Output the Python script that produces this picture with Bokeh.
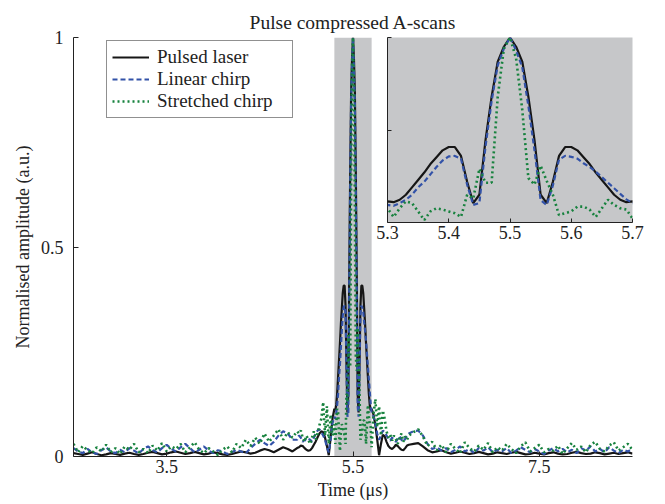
import numpy as np
from bokeh.plotting import figure
from bokeh.models import (Range1d, FixedTicker, BoxAnnotation, Legend, LegendItem,
                          ColumnDataSource, CustomJSTickFormatter)
from bokeh.embed import file_html
from bokeh.resources import INLINE

# ---- time grid (μs), segments of different sampling ----
t_A = np.round(np.linspace(2.50, 4.90, 49), 3)
t_B = np.round(np.linspace(4.92, 5.28, 19), 3)
t_C = np.round(np.linspace(5.30, 5.70, 41), 3)
t_D = np.round(np.linspace(5.72, 6.10, 20), 3)
t_E = np.round(np.linspace(6.15, 8.50, 48), 3)

# ---- Pulsed laser ----
laser_A = [0.008,0.006,0.004,0.007,0.010,0.006,0.003,0.005,0.008,0.006,
           0.004,0.007,0.009,0.006,0.004,0.006,0.009,0.011,0.008,0.005,
           0.007,0.010,0.012,0.009,0.006,0.008,0.011,0.008,0.005,0.007,
           0.010,0.008,0.005,0.004,0.006,0.009,0.012,0.010,0.007,0.009,
           0.014,0.018,0.015,0.010,0.016,0.022,0.018,0.012,0.020]
laser_B = [0.022,0.026,0.025,0.020,0.016,0.014,0.015,0.020,0.028,0.036,
           0.046,0.055,0.060,0.058,0.045,0.025,0.003,0.045,0.090]
laser_C = [0.114,0.110,0.123,0.150,0.190,0.230,0.270,0.316,0.353,0.390,
           0.408,0.408,0.360,0.220,0.105,0.150,0.445,0.680,0.870,0.950,
           1.000,
           0.950,0.870,0.680,0.445,0.150,0.105,0.220,0.360,0.408,0.408,
           0.390,0.353,0.316,0.270,0.230,0.190,0.150,0.123,0.110,0.114]
laser_D = [0.100,0.075,0.040,0.003,0.030,0.052,0.048,0.035,0.025,0.020,
           0.018,0.022,0.028,0.025,0.020,0.016,0.015,0.020,0.026,0.028]
laser_E = [0.030,0.032,0.024,0.015,0.010,0.012,0.015,0.010,0.007,0.009,
           0.012,0.009,0.006,0.008,0.011,0.008,0.005,0.007,0.010,0.008,
           0.006,0.009,0.011,0.008,0.005,0.006,0.009,0.007,0.005,0.008,
           0.010,0.007,0.005,0.006,0.009,0.011,0.008,0.006,0.007,0.010,
           0.008,0.005,0.007,0.009,0.006,0.008,0.010,0.007]

# ---- Linear chirp ----
linear_A = [0.020,0.012,0.008,0.018,0.010,0.006,0.015,0.022,0.012,0.008,
            0.016,0.010,0.020,0.014,0.007,0.018,0.024,0.015,0.010,0.020,
            0.028,0.018,0.012,0.022,0.030,0.020,0.010,0.016,0.024,0.014,
            0.008,0.015,0.012,0.006,0.010,0.016,0.012,0.008,0.020,0.030,
            0.040,0.032,0.025,0.035,0.050,0.060,0.055,0.040,0.040]
linear_B = [0.050,0.045,0.035,0.040,0.038,0.042,0.040,0.035,0.045,0.055,
            0.062,0.065,0.058,0.050,0.040,0.022,0.010,0.040,0.080]
linear_C = [0.095,0.090,0.105,0.123,0.150,0.190,0.220,0.260,0.300,0.335,
            0.357,0.360,0.345,0.205,0.095,0.105,0.410,0.656,0.850,0.940,
            1.000,
            0.930,0.840,0.630,0.390,0.120,0.095,0.200,0.340,0.360,0.355,
            0.345,0.320,0.300,0.275,0.245,0.215,0.185,0.155,0.125,0.105]
linear_D = [0.095,0.080,0.055,0.040,0.050,0.062,0.058,0.050,0.042,0.038,
            0.045,0.040,0.035,0.042,0.048,0.040,0.035,0.042,0.050,0.055]
linear_E = [0.060,0.062,0.050,0.030,0.018,0.022,0.014,0.020,0.010,0.016,
            0.024,0.012,0.018,0.008,0.020,0.014,0.022,0.010,0.016,0.012,
            0.020,0.008,0.014,0.022,0.016,0.010,0.018,0.012,0.006,0.014,
            0.020,0.012,0.018,0.010,0.016,0.008,0.020,0.014,0.024,0.012,
            0.018,0.010,0.022,0.014,0.008,0.016,0.012,0.018]

# ---- Stretched chirp ----
stretched_A = [0.030,0.010,0.025,0.015,0.008,0.022,0.012,0.028,0.010,0.020,
               0.006,0.024,0.016,0.030,0.010,0.018,0.008,0.026,0.014,0.032,
               0.012,0.024,0.018,0.030,0.010,0.022,0.034,0.016,0.008,0.020,
               0.012,0.004,0.016,0.024,0.010,0.030,0.020,0.040,0.025,0.045,
               0.030,0.055,0.035,0.050,0.065,0.040,0.058,0.045,0.060]
stretched_B = [0.055,0.062,0.045,0.035,0.050,0.040,0.030,0.045,0.060,0.040,
               0.055,0.075,0.090,0.130,0.050,0.120,0.030,0.100,0.050]
stretched_C = [0.077,0.030,0.077,0.114,0.105,0.060,0.013,0.060,0.077,0.070,
               0.060,0.050,0.030,0.150,0.130,0.290,0.215,0.215,0.680,0.940,
               1.000,
               0.886,0.610,0.240,0.205,0.307,0.224,0.150,0.040,0.050,0.060,
               0.086,0.086,0.070,0.030,0.077,0.123,0.095,0.077,0.070,0.022]
stretched_D = [0.100,0.137,0.070,0.120,0.050,0.110,0.090,0.060,0.045,0.052,
               0.038,0.050,0.042,0.030,0.045,0.055,0.035,0.048,0.040,0.050]
stretched_E = [0.058,0.065,0.048,0.025,0.035,0.015,0.028,0.010,0.030,0.018,
               0.008,0.034,0.020,0.012,0.026,0.016,0.032,0.010,0.022,0.014,
               0.030,0.018,0.008,0.024,0.034,0.012,0.020,0.028,0.010,0.018,
               0.014,0.026,0.006,0.020,0.032,0.016,0.024,0.010,0.028,0.035,
               0.018,0.012,0.026,0.034,0.014,0.022,0.030,0.016]

series_names = ["Pulsed laser", "Linear chirp", "Stretched chirp"]
x_ticks = [3.5, 5.5, 7.5]
y_ticks = [0, 0.5, 1]
inset_x_ticks = [5.3, 5.4, 5.5, 5.6, 5.7]
inset_y_ticks = [0.5, 1]

t = np.concatenate([t_A, t_B, t_C, t_D, t_E])
src = ColumnDataSource(dict(
    t=t,
    laser=np.concatenate([laser_A, laser_B, laser_C, laser_D, laser_E]),
    linear=np.concatenate([linear_A, linear_B, linear_C, linear_D, linear_E]),
    stretched=np.concatenate([stretched_A, stretched_B, stretched_C, stretched_D, stretched_E]),
))

FONT = "Liberation Serif"
TXT = "#222222"
BLACK = "#161616"
BLUE = "#3252a8"
GREEN = "#17823e"
GREY = "#c6c7c9"

styles = [
    dict(field="laser", color=BLACK, dash="solid", width=2.2),
    dict(field="linear", color=BLUE, dash="5 3", width=2.2),
    dict(field="stretched", color=GREEN, dash="2 3", width=2.6),
]

# ---- main figure ----
p = figure(width=657, height=502, output_backend="svg", toolbar_location=None,
           x_range=Range1d(2.5, 8.5), y_range=Range1d(0, 1),
           min_border_left=73, min_border_right=25, min_border_top=37, min_border_bottom=44)
p.outline_line_color = None
p.xgrid.visible = False
p.ygrid.visible = False
p.title.text = "Pulse compressed A-scans"
p.title.align = "center"
p.title.text_font = FONT
p.title.text_font_style = "normal"
p.title.text_font_size = "19.5px"
p.title.text_color = TXT

p.add_layout(BoxAnnotation(left=5.3, right=5.7, fill_color=GREY, fill_alpha=1.0,
                           line_color=None, level="underlay"))

renderers = []
for s in styles:
    r = p.line("t", s["field"], source=src, line_color=s["color"], line_width=s["width"],
               line_dash=s["dash"])
    renderers.append(r)

for ax in (p.xaxis[0], p.yaxis[0]):
    ax.major_tick_in = 5
    ax.major_tick_out = 0
    ax.minor_tick_in = 0
    ax.minor_tick_out = 0
    ax.axis_line_color = TXT
    ax.major_tick_line_color = TXT
    ax.major_label_text_font = FONT
    ax.major_label_text_font_size = "18px"
    ax.major_label_text_color = TXT
    ax.axis_label_text_font = FONT
    ax.axis_label_text_font_style = "normal"
    ax.axis_label_text_font_size = "18px"
    ax.axis_label_text_color = TXT

p.xaxis[0].ticker = FixedTicker(ticks=x_ticks)
p.yaxis[0].ticker = FixedTicker(ticks=y_ticks)
p.yaxis[0].major_label_overrides = {0: "0", 0.5: "0.5", 1: "1"}
p.xaxis[0].axis_label = "Time (μs)"
p.yaxis[0].axis_label = "Normalised amplitude (a.u.)"
p.xaxis[0].major_label_standoff = 3
p.xaxis[0].axis_label_standoff = 4
p.yaxis[0].major_label_standoff = 10
p.yaxis[0].axis_label_standoff = 5

legend = Legend(items=[LegendItem(label=n, renderers=[r]) for n, r in zip(series_names, renderers)],
                location=(33, 338))
legend.label_text_font = FONT
legend.label_text_font_size = "19px"
legend.label_text_color = TXT
legend.border_line_color = TXT
legend.border_line_width = 1
legend.background_fill_alpha = 1.0
legend.glyph_width = 37
legend.label_standoff = 8
legend.label_width = 130
legend.label_height = 18
legend.glyph_height = 18
legend.spacing = 0
legend.padding = 5
legend.margin = 0
p.add_layout(legend)

# ---- inset (zoom on the grey band) ----
q = figure(width=273, height=213, output_backend="svg", toolbar_location=None,
           x_range=Range1d(5.3, 5.7), y_range=Range1d(0, 1),
           min_border_left=14, min_border_right=14, min_border_top=2, min_border_bottom=26,
           background_fill_color=GREY, border_fill_color=None)
q.outline_line_color = None
q.xgrid.visible = False
q.ygrid.visible = False
for s in styles:
    q.line("t", s["field"], source=src, line_color=s["color"], line_width=s["width"],
           line_dash=s["dash"])
for ax in (q.xaxis[0], q.yaxis[0]):
    ax.major_tick_in = 4
    ax.major_tick_out = 0
    ax.minor_tick_in = 0
    ax.minor_tick_out = 0
    ax.axis_line_color = TXT
    ax.major_tick_line_color = TXT
    ax.major_label_text_font = FONT
    ax.major_label_text_font_size = "18px"
    ax.major_label_text_color = TXT
q.xaxis[0].ticker = FixedTicker(ticks=inset_x_ticks)
q.yaxis[0].ticker = FixedTicker(ticks=inset_y_ticks)
q.xaxis[0].major_label_standoff = 3
q.yaxis[0].formatter = CustomJSTickFormatter(code="return ''")
q.yaxis[0].major_label_standoff = 0
q.styles = {"position": "absolute", "left": "373px", "top": "35px"}

open("out.html", "w").write(file_html((p, q), INLINE))
